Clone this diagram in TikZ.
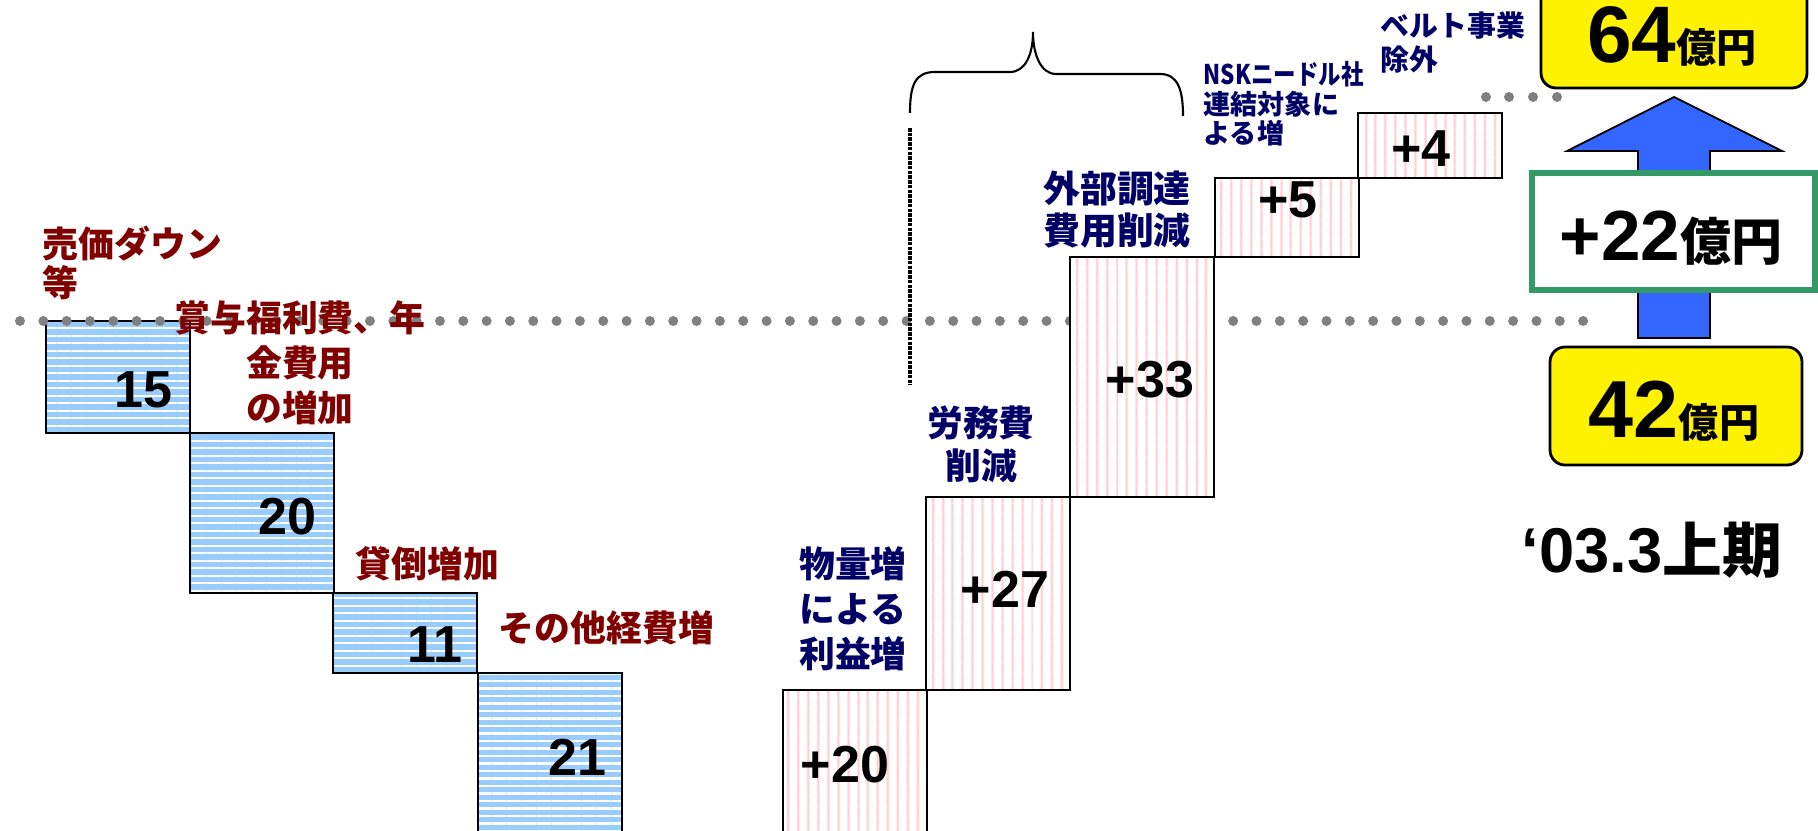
\documentclass[tikz,border=0pt]{standalone}
\usepackage{fontspec}
\setmainfont{Liberation Sans}
\newfontfamily\jp{Noto Sans CJK JP}
\usetikzlibrary{patterns.meta}
\definecolor{lblue}{RGB}{153,204,255}
\definecolor{lpink}{RGB}{255,208,208}
\definecolor{dred}{RGB}{128,0,0}
\definecolor{navy}{RGB}{0,0,102}
\definecolor{arrblue}{RGB}{51,102,255}
\definecolor{boxgreen}{RGB}{51,153,102}
\definecolor{dotgray}{RGB}{128,128,128}
\tikzset{
  lossbar/.style={draw=black,line width=0.7pt,preaction={fill=lblue},pattern={Lines[angle=0,distance=0.075cm,line width=0.022cm]},pattern color=white},
  gainbar/.style={draw=black,line width=0.7pt,preaction={fill=white},pattern={Lines[angle=90,distance=0.103cm,line width=0.027cm]},pattern color=lpink},
  num/.style={inner sep=0,font=\fontsize{14.8}{15}\selectfont\bfseries},
  redlbl/.style={inner sep=0,text=dred,font=\jp\bfseries\fontsize{10.2}{#1}\selectfont},
  redlbl/.default=12.8,
  navlbl/.style={inner sep=0,text=navy,font=\jp\bfseries\fontsize{10.2}{#1}\selectfont},
  navlbl/.default=12.8,
  ybox/.style={draw=black,line width=0.8pt,fill=yellow,rounded corners=0.15cm}
}
\begin{document}
\begin{tikzpicture}[x=0.01cm,y=-0.01cm]
\useasboundingbox (0,0) rectangle (1818,831);
\clip (0,0) rectangle (1818,831);
% cost bars
\foreach \xa/\ya/\yb in {46/321/433, 190/433/593, 333/593/673, 478/673/845}
  \draw[lossbar] (\xa,\ya) rectangle (\xa+144,\yb);
% dotted levels
\foreach \k in {0,...,67} \fill[dotgray] (20+23.33*\k,321) circle (5);
\foreach \x in {1486,1509,1533,1557} \fill[dotgray] (\x,97) circle (5);
% gain bars
\foreach \xa/\ya/\yb in {783/690/845, 926/497/690, 1070/257/497, 1215/178/257, 1358/113/178}
  \draw[gainbar] (\xa,\ya) rectangle (\xa+144,\yb);
\node[num,anchor=base east](v15)at(173,408){15};
\node[num,anchor=base east](v20)at(317,535){20};
\node[num,anchor=base east](v11)at(463,663){11};
\node[num,anchor=base east](v21)at(607,775){21};
\node[num,anchor=base](p20)at(845,782){+20};
\node[num,anchor=base](p27)at(1005,608){+27};
\node[num,anchor=base](p33)at(1150,398){+33};
\node[num,anchor=base](p5)at(1288,218){+5};
\node[num,anchor=base](p4)at(1421,167){+4};
% labels
\node[redlbl=11.1,anchor=north west,align=left](l1)at(42,225){売価ダウン\\等};
\node[redlbl,anchor=north,align=center](l2)at(300,300){賞与福利費、年\\金費用\\の増加};
\node[redlbl,anchor=north west](l3)at(355,546){貸倒増加};
\node[redlbl,anchor=north west](l4)at(498,610){その他経費増};
\node[navlbl,anchor=north,align=center](g1)at(853,546){物量増\\による\\利益増};
\node[navlbl=12.2,anchor=north,align=center](g2)at(981,405){労務費\\削減};
\node[navlbl=12,anchor=north,align=center,font=\jp\bfseries\fontsize{10.5}{12}\selectfont](g3)at(1117,170){外部調達\\費用削減};
\node[navlbl,anchor=north west,align=left,font=\jp\bfseries\fontsize{7.7}{8.4}\selectfont](g4)at(1203,61){\scalebox{0.83}[1]{NSKニードル社}\\連結対象に\\よる増};
\node[navlbl,anchor=north west,align=left,font=\jp\bfseries\fontsize{8.2}{9.7}\selectfont](g5)at(1380,11){ベルト事業\\除外};
% brace
\draw[line width=0.6pt] (910,113) .. controls (910,85) and (915,72) .. (935,72) -- (1010,72)
  .. controls (1025,72) and (1033,55) .. (1033,32) .. controls (1033,55) and (1041,74) .. (1056,74)
  -- (1160,74) .. controls (1178,74) and (1183,90) .. (1183,116);
\draw[line width=1pt,dash pattern=on 1pt off 0.35pt] (910,128) -- (910,385);
% total
\draw[fill=arrblue,line width=0.5pt] (1638,338) -- (1638,151) -- (1567,151) -- (1674,97) -- (1782,151) -- (1710,151) -- (1710,338) -- cycle;
\draw[boxgreen,line width=1.7pt,fill=white] (1532,173) rectangle (1815,290);
\node[inner sep=0,anchor=base](d22)at(1671,261){\fontsize{20.2}{21}\selectfont\bfseries +22{\jp\fontsize{14.5}{15}\selectfont 億円}};
\draw[ybox] (1541,-30) rectangle (1807,88);
\node[inner sep=0,anchor=base](t64)at(1672,63){\fontsize{22.8}{23}\selectfont\bfseries 64{\jp\fontsize{11.4}{12}\selectfont 億円}};
\draw[ybox] (1550,347) rectangle (1802,465);
\node[inner sep=0,anchor=base](t42)at(1674,438){\fontsize{23}{23}\selectfont\bfseries 42{\jp\fontsize{11.4}{12}\selectfont 億円}};
\node[inner sep=0,anchor=base](per)at(1652,573){\fontsize{18}{18}\selectfont\bfseries ‘03.3{\jp\fontsize{17}{18}\selectfont 上期}};
\end{tikzpicture}
\end{document}
